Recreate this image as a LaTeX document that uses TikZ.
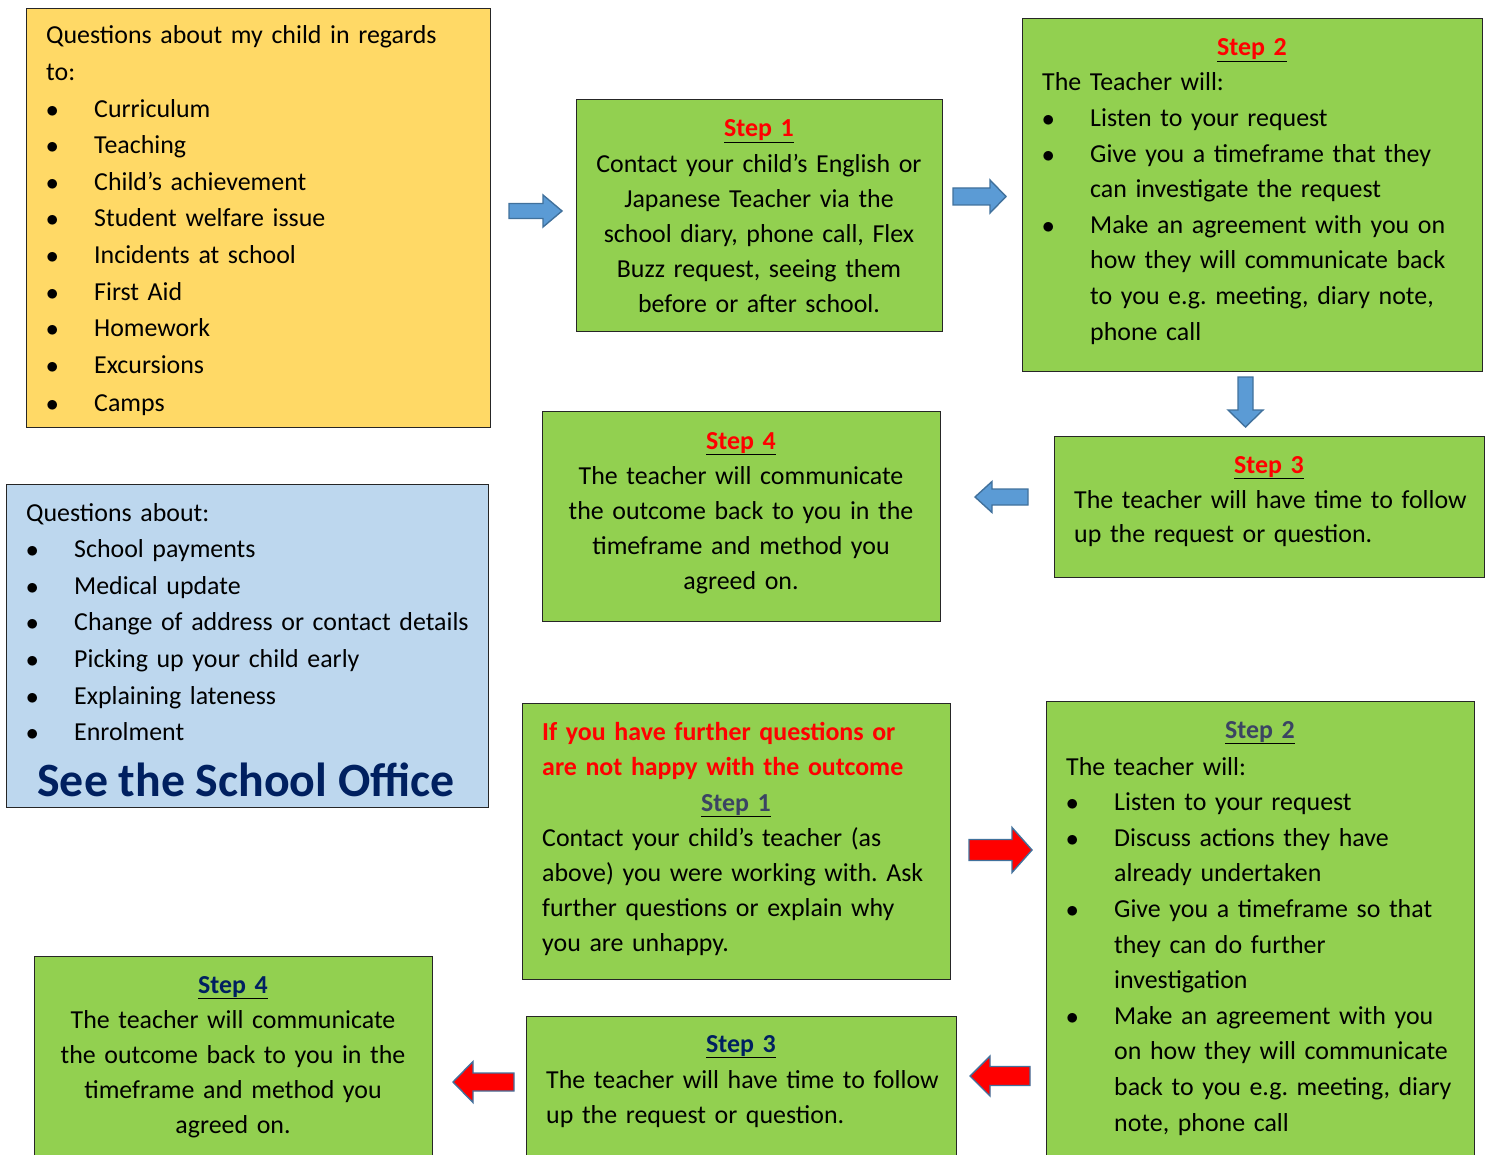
\documentclass[tikz,border=0pt]{standalone}
\usepackage{fontspec}
\setmainfont{Carlito}
\frenchspacing

\definecolor{boxgreen}{HTML}{92D050}
\definecolor{boxyellow}{HTML}{FFD966}
\definecolor{boxblue}{HTML}{BDD7EE}
\definecolor{arrowblue}{HTML}{5B9BD5}
\definecolor{arrowedge}{HTML}{41719C}
\definecolor{officeblue}{HTML}{002060}
\definecolor{slate}{HTML}{3B4463}

% bullet column of the lists
\newcommand{\bul}{\makebox[48pt][l]{$\bullet$}}
\newcommand{\ind}{\hspace*{48pt}}
% block arrow: style, tail x, neck x, tip x, centre y, half shaft, half head
\newcommand{\harrow}[7]{%
  \draw[#1] (#2,#5-#6) -- (#3,#5-#6) -- (#3,#5-#7) -- (#4,#5)
    -- (#3,#5+#7) -- (#3,#5+#6) -- (#2,#5+#6) -- cycle;}

\begin{document}
\begin{tikzpicture}[x=1pt,y=-1pt,
    panel/.style={draw=black!85, line width=1.2pt, anchor=north west, inner sep=0pt},
    txt/.style={inner sep=0pt, anchor=base west, align=left, text width=#1,
      font=\fontsize{25.9}{35.6}\selectfont},
    ctxt/.style={txt=#1, anchor=base, align=center},
    barrow/.style={draw=arrowedge, fill=arrowblue, line width=1.4pt},
    rarrow/.style={barrow, fill=red}]
\useasboundingbox (0,0) rectangle (1490,1155);
\clip (0,0) rectangle (1490,1155);

% panels
\node[panel, fill=boxyellow, minimum width=464, minimum height=419] (qchild) at (26,8) {};
\node[panel, fill=boxgreen, minimum width=366, minimum height=232] (stepa) at (576,99) {};
\node[panel, fill=boxgreen, minimum width=460, minimum height=353] (stepb) at (1022,18) {};
\node[panel, fill=boxgreen, minimum width=430, minimum height=141] (stepc) at (1054,436) {};
\node[panel, fill=boxgreen, minimum width=398, minimum height=210] (stepd) at (542,411) {};
\node[panel, fill=boxblue, minimum width=482, minimum height=323] (office) at (6,484) {};
\node[panel, fill=boxgreen, minimum width=428, minimum height=276] (further) at (522,703) {};
\node[panel, fill=boxgreen, minimum width=428, minimum height=480] (stepbb) at (1046,701) {};
\node[panel, fill=boxgreen, minimum width=398, minimum height=220] (stepdd) at (34,956) {};
\node[panel, fill=boxgreen, minimum width=430, minimum height=160] (stepcc) at (526,1016) {};

% yellow panel
\node[txt=440, font=\fontsize{25.9}{36.6}\selectfont] (qchildtxt) at (46,44)
  {Questions about my child in regards\\to:\\
   \bul Curriculum\\\bul Teaching\\\bul Child’s achievement\\\bul Student welfare issue\\
   \bul Incidents at school\\\bul First Aid\\\bul Homework\\\bul Excursions\\[2pt]\bul Camps};

% first round
\node[ctxt=360, font=\fontsize{25.9}{35.2}\selectfont] (stepatxt) at (759,137)
  {\underline{\textbf{\color{red}Step 1}}\\Contact your child’s English or\\Japanese Teacher via the\\
   school diary, phone call, Flex\\Buzz request, seeing them\\before or after school.};
\node[ctxt=200] (stepbhead) at (1252,56) {\underline{\textbf{\color{red}Step 2}}};
\node[txt=440] (stepbtxt) at (1042,91)
  {The Teacher will:\\\bul Listen to your request\\\bul Give you a timeframe that they\\
   \ind can investigate the request\\\bul Make an agreement with you on\\
   \ind how they will communicate back\\\ind to you e.g. meeting, diary note,\\\ind phone call};
\node[ctxt=200] (stepchead) at (1269,473) {\underline{\textbf{\color{red}Step 3}}};
\node[txt=410, font=\fontsize{25.9}{34.5}\selectfont] (stepctxt) at (1074,508)
  {The teacher will have time to follow\\up the request or question.};
\node[ctxt=390, font=\fontsize{25.9}{35.2}\selectfont] (stepdtxt) at (741,449)
  {\underline{\textbf{\color{red}Step 4}}\\The teacher will communicate\\the outcome back to you in the\\
   timeframe and method you\\agreed on.};

% blue panel
\node[txt=460, font=\fontsize{25.9}{36.6}\selectfont] (officetxt) at (26,521)
  {Questions about:\\\bul School payments\\\bul Medical update\\\bul Change of address or contact details\\
   \bul Picking up your child early\\\bul Explaining lateness\\\bul Enrolment};
\node[inner sep=0pt, anchor=base, text=officeblue, font=\fontsize{47.8}{50}\selectfont\bfseries]
  (officehead) at (246,796) {See the School Office};

% second round
\node[txt=410, font=\fontsize{25.9}{35.2}\selectfont] (furthertxt) at (542,740)
  {\textbf{\color{red}If you have further questions or}\\\textbf{\color{red}are not happy with the outcome}};
\node[ctxt=200] (furtherhead) at (736,811) {\underline{\textbf{\color{slate}Step 1}}};
\node[txt=410, font=\fontsize{25.9}{35.2}\selectfont] (furtherbody) at (542,846)
  {Contact your child’s teacher (as\\above) you were working with. Ask\\
   further questions or explain why\\you are unhappy.};
\node[ctxt=200] (stepbbhead) at (1260,738) {\underline{\textbf{\color{slate}Step 2}}};
\node[txt=400] (stepbbtxt) at (1066,775)
  {The teacher will:\\\bul Listen to your request\\\bul Discuss actions they have\\\ind already undertaken\\
   \bul Give you a timeframe so that\\\ind they can do further\\\ind investigation\\
   \bul Make an agreement with you\\\ind on how they will communicate\\\ind back to you e.g. meeting, diary\\
   \ind note, phone call};
\node[ctxt=200] (stepcchead) at (741,1052) {\underline{\textbf{\color{officeblue}Step 3}}};
\node[txt=410, font=\fontsize{25.9}{35}\selectfont] (stepcctxt) at (546,1088)
  {The teacher will have time to follow\\up the request or question.};
\node[ctxt=390, font=\fontsize{25.9}{35}\selectfont] (stepddtxt) at (233,993)
  {\underline{\textbf{\color{officeblue}Step 4}}\\The teacher will communicate\\the outcome back to you in the\\
   timeframe and method you\\agreed on.};

% arrows
\harrow{barrow}{509}{543}{562}{211}{7.5}{16}
\harrow{barrow}{953}{990}{1006}{196.5}{8.5}{16.5}
\draw[barrow] (1238,377) -- (1253,377) -- (1253,410) -- (1263,410) -- (1245.5,427)
  -- (1228,410) -- (1238,410) -- cycle;
\harrow{barrow}{1028}{992}{975}{497}{8}{15.5}
\harrow{rarrow}{969}{1012}{1032}{850}{10.5}{22.5}
\harrow{rarrow}{1030}{990}{970}{1076}{9.5}{20}
\harrow{rarrow}{514}{473}{453}{1082}{9}{20.5}
\end{tikzpicture}
\end{document}
